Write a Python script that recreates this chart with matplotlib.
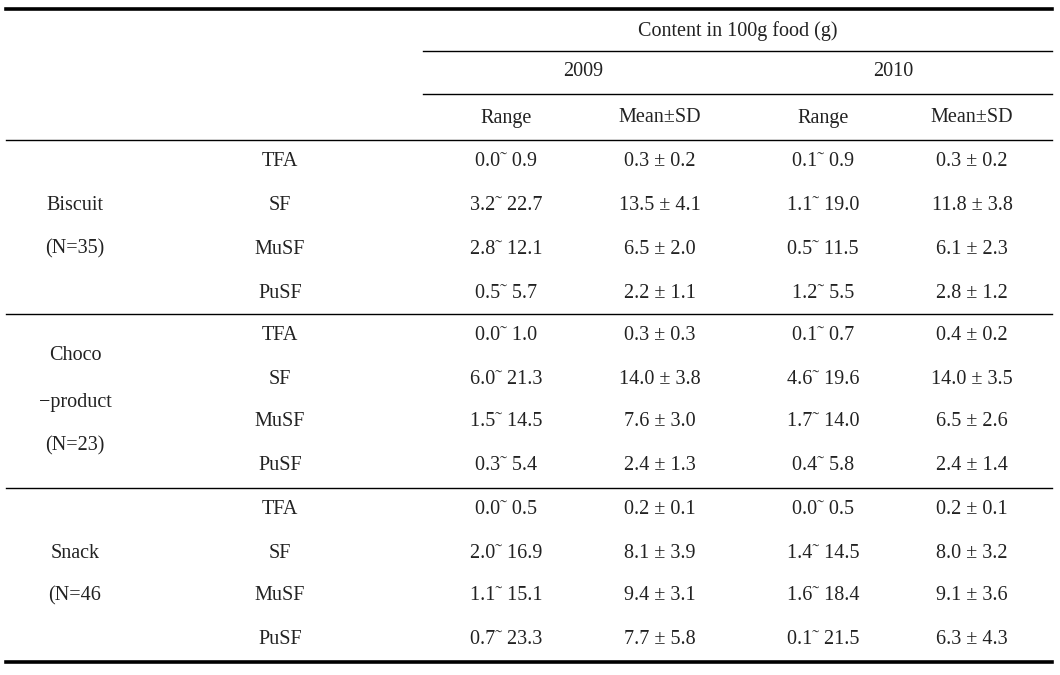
import matplotlib.pyplot as plt

# table contents
groups = ['Biscuit\n(N=35)', 'Choco\n\u2212product\n(N=23)', 'Snack\n(N=46']
fats = ['TFA', 'SF', 'MuSF', 'PuSF']

range_2009 = [
    ['0.0', '0.9'], ['3.2', '22.7'], ['2.8', '12.1'], ['0.5', '5.7'],
    ['0.0', '1.0'], ['6.0', '21.3'], ['1.5', '14.5'], ['0.3', '5.4'],
    ['0.0', '0.5'], ['2.0', '16.9'], ['1.1', '15.1'], ['0.7', '23.3'],
]
mean_2009 = ['0.3', '13.5', '6.5', '2.2', '0.3', '14.0', '7.6', '2.4', '0.2', '8.1', '9.4', '7.7']
sd_2009 = ['0.2', '4.1', '2.0', '1.1', '0.3', '3.8', '3.0', '1.3', '0.1', '3.9', '3.1', '5.8']
range_2010 = [
    ['0.1', '0.9'], ['1.1', '19.0'], ['0.5', '11.5'], ['1.2', '5.5'],
    ['0.1', '0.7'], ['4.6', '19.6'], ['1.7', '14.0'], ['0.4', '5.8'],
    ['0.0', '0.5'], ['1.4', '14.5'], ['1.6', '18.4'], ['0.1', '21.5'],
]
mean_2010 = ['0.3', '11.8', '6.1', '2.8', '0.4', '14.0', '6.5', '2.4', '0.2', '8.0', '9.1', '6.3']
sd_2010 = ['0.2', '3.8', '2.3', '1.2', '0.2', '3.5', '2.6', '1.4', '0.1', '3.2', '3.6', '4.3']

header_top = 'Content in 100g food (g)'
years = ['2009', '2010']
sub_headers = ['Range', 'Mean\u00b1SD', 'Range', 'Mean\u00b1SD']

plt.rcParams['font.family'] = ['Liberation Serif', 'DejaVu Serif']
txt_color = '#222222'
fs = 14.5

fig = plt.figure(figsize=(10.6, 6.75), dpi=100)
ax = fig.add_axes([0, 0, 1, 1])
ax.set_xlim(0, 1060)
ax.set_ylim(675, 0)
ax.axis('off')

# rules
left, right, inner = 6, 1052, 423
ax.plot([left, right], [9, 9], color='black', lw=2.6)
ax.plot([inner, right], [51, 51], color='black', lw=1.0)
ax.plot([inner, right], [94, 94], color='black', lw=1.0)
for y in [140, 314, 488]:
    ax.plot([left, right], [y, y], color='black', lw=1.0)
ax.plot([left, right], [662, 662], color='black', lw=2.6)

# header
ax.text(738, 31, header_top, ha='center', va='center', fontsize=fs, color=txt_color)
for x, yr in zip([583, 893], years):
    ax.text(x, 72, yr, ha='center', va='center', fontsize=fs, color=txt_color)
col_x = [506, 660, 823, 972]
for x, h in zip(col_x, sub_headers):
    ax.text(x, 118, h, ha='center', va='center', fontsize=fs, color=txt_color)

# body
row_y = [162, 206, 249, 293, 336, 379, 422, 466, 510, 553, 596, 640]
group_y = [[205, 249], [355, 402, 446], [553, 596]]
for g, ys in zip(groups, group_y):
    for line, y in zip(g.split('\n'), ys):
        ax.text(75, y, line, ha='center', va='center', fontsize=fs, color=txt_color)

for i, y in enumerate(row_y):
    ax.text(280, y, fats[i % 4], ha='center', va='center', fontsize=fs, color=txt_color)
    ax.text(col_x[0], y, f'{range_2009[i][0]}\u02dc {range_2009[i][1]}',
            ha='center', va='center', fontsize=fs, color=txt_color)
    ax.text(col_x[1], y, f'{mean_2009[i]} \u00b1 {sd_2009[i]}',
            ha='center', va='center', fontsize=fs, color=txt_color)
    ax.text(col_x[2], y, f'{range_2010[i][0]}\u02dc {range_2010[i][1]}',
            ha='center', va='center', fontsize=fs, color=txt_color)
    ax.text(col_x[3], y, f'{mean_2010[i]} \u00b1 {sd_2010[i]}',
            ha='center', va='center', fontsize=fs, color=txt_color)

plt.savefig('out.png', dpi=100)
